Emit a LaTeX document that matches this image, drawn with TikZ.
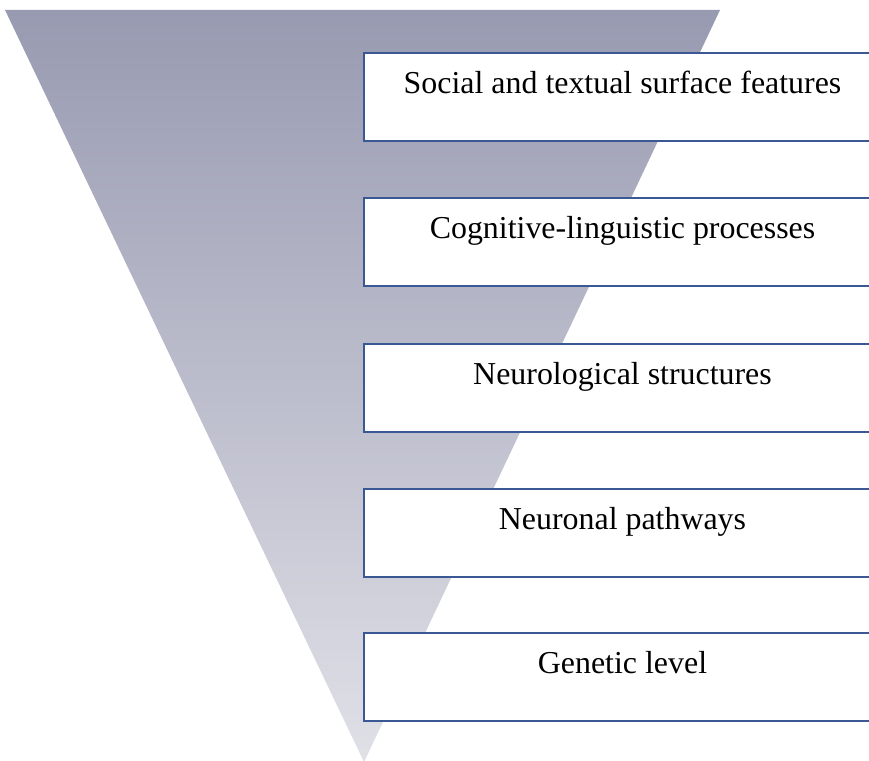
\documentclass[tikz,border=0pt]{standalone}
\usepackage{fontspec}
\setmainfont{Liberation Serif}
\begin{document}
\begin{tikzpicture}[x=1pt,y=-1pt,
  levelbox/.style={draw=boxblue, line width=2pt, fill=white, rectangle,
    minimum width=517pt, minimum height=88pt, anchor=north west, inner sep=0pt},
  leveltext/.style={anchor=base, font=\fontsize{31.9}{36}\selectfont, text=black, inner sep=0pt}]
\definecolor{boxblue}{RGB}{58,88,148}
\definecolor{funneltop}{RGB}{152,154,177}
\definecolor{funnelbottom}{RGB}{224,224,231}
\useasboundingbox (0,0) rectangle (869,760);
\clip (0,0) rectangle (869,760);
% funnel triangle with vertical gradient
\coordinate (tl) at (5,10);
\coordinate (tr) at (720,10);
\coordinate (apex) at (364,762);
\shade[top color=funneltop, bottom color=funnelbottom] (tl) -- (tr) -- (apex) -- cycle;
% level boxes (right side runs past the edge)
\foreach \i/\y/\txt in {1/52/Social and textual surface features,
                        2/197/Cognitive-linguistic processes,
                        3/343/Neurological structures,
                        4/488/Neuronal pathways,
                        5/632/Genetic level}{
  \node[levelbox] (box\i) at (363,\y) {};
  \node[leveltext] (label\i) at ([yshift=-41pt]box\i.north) {\txt};
}
\end{tikzpicture}
\end{document}
